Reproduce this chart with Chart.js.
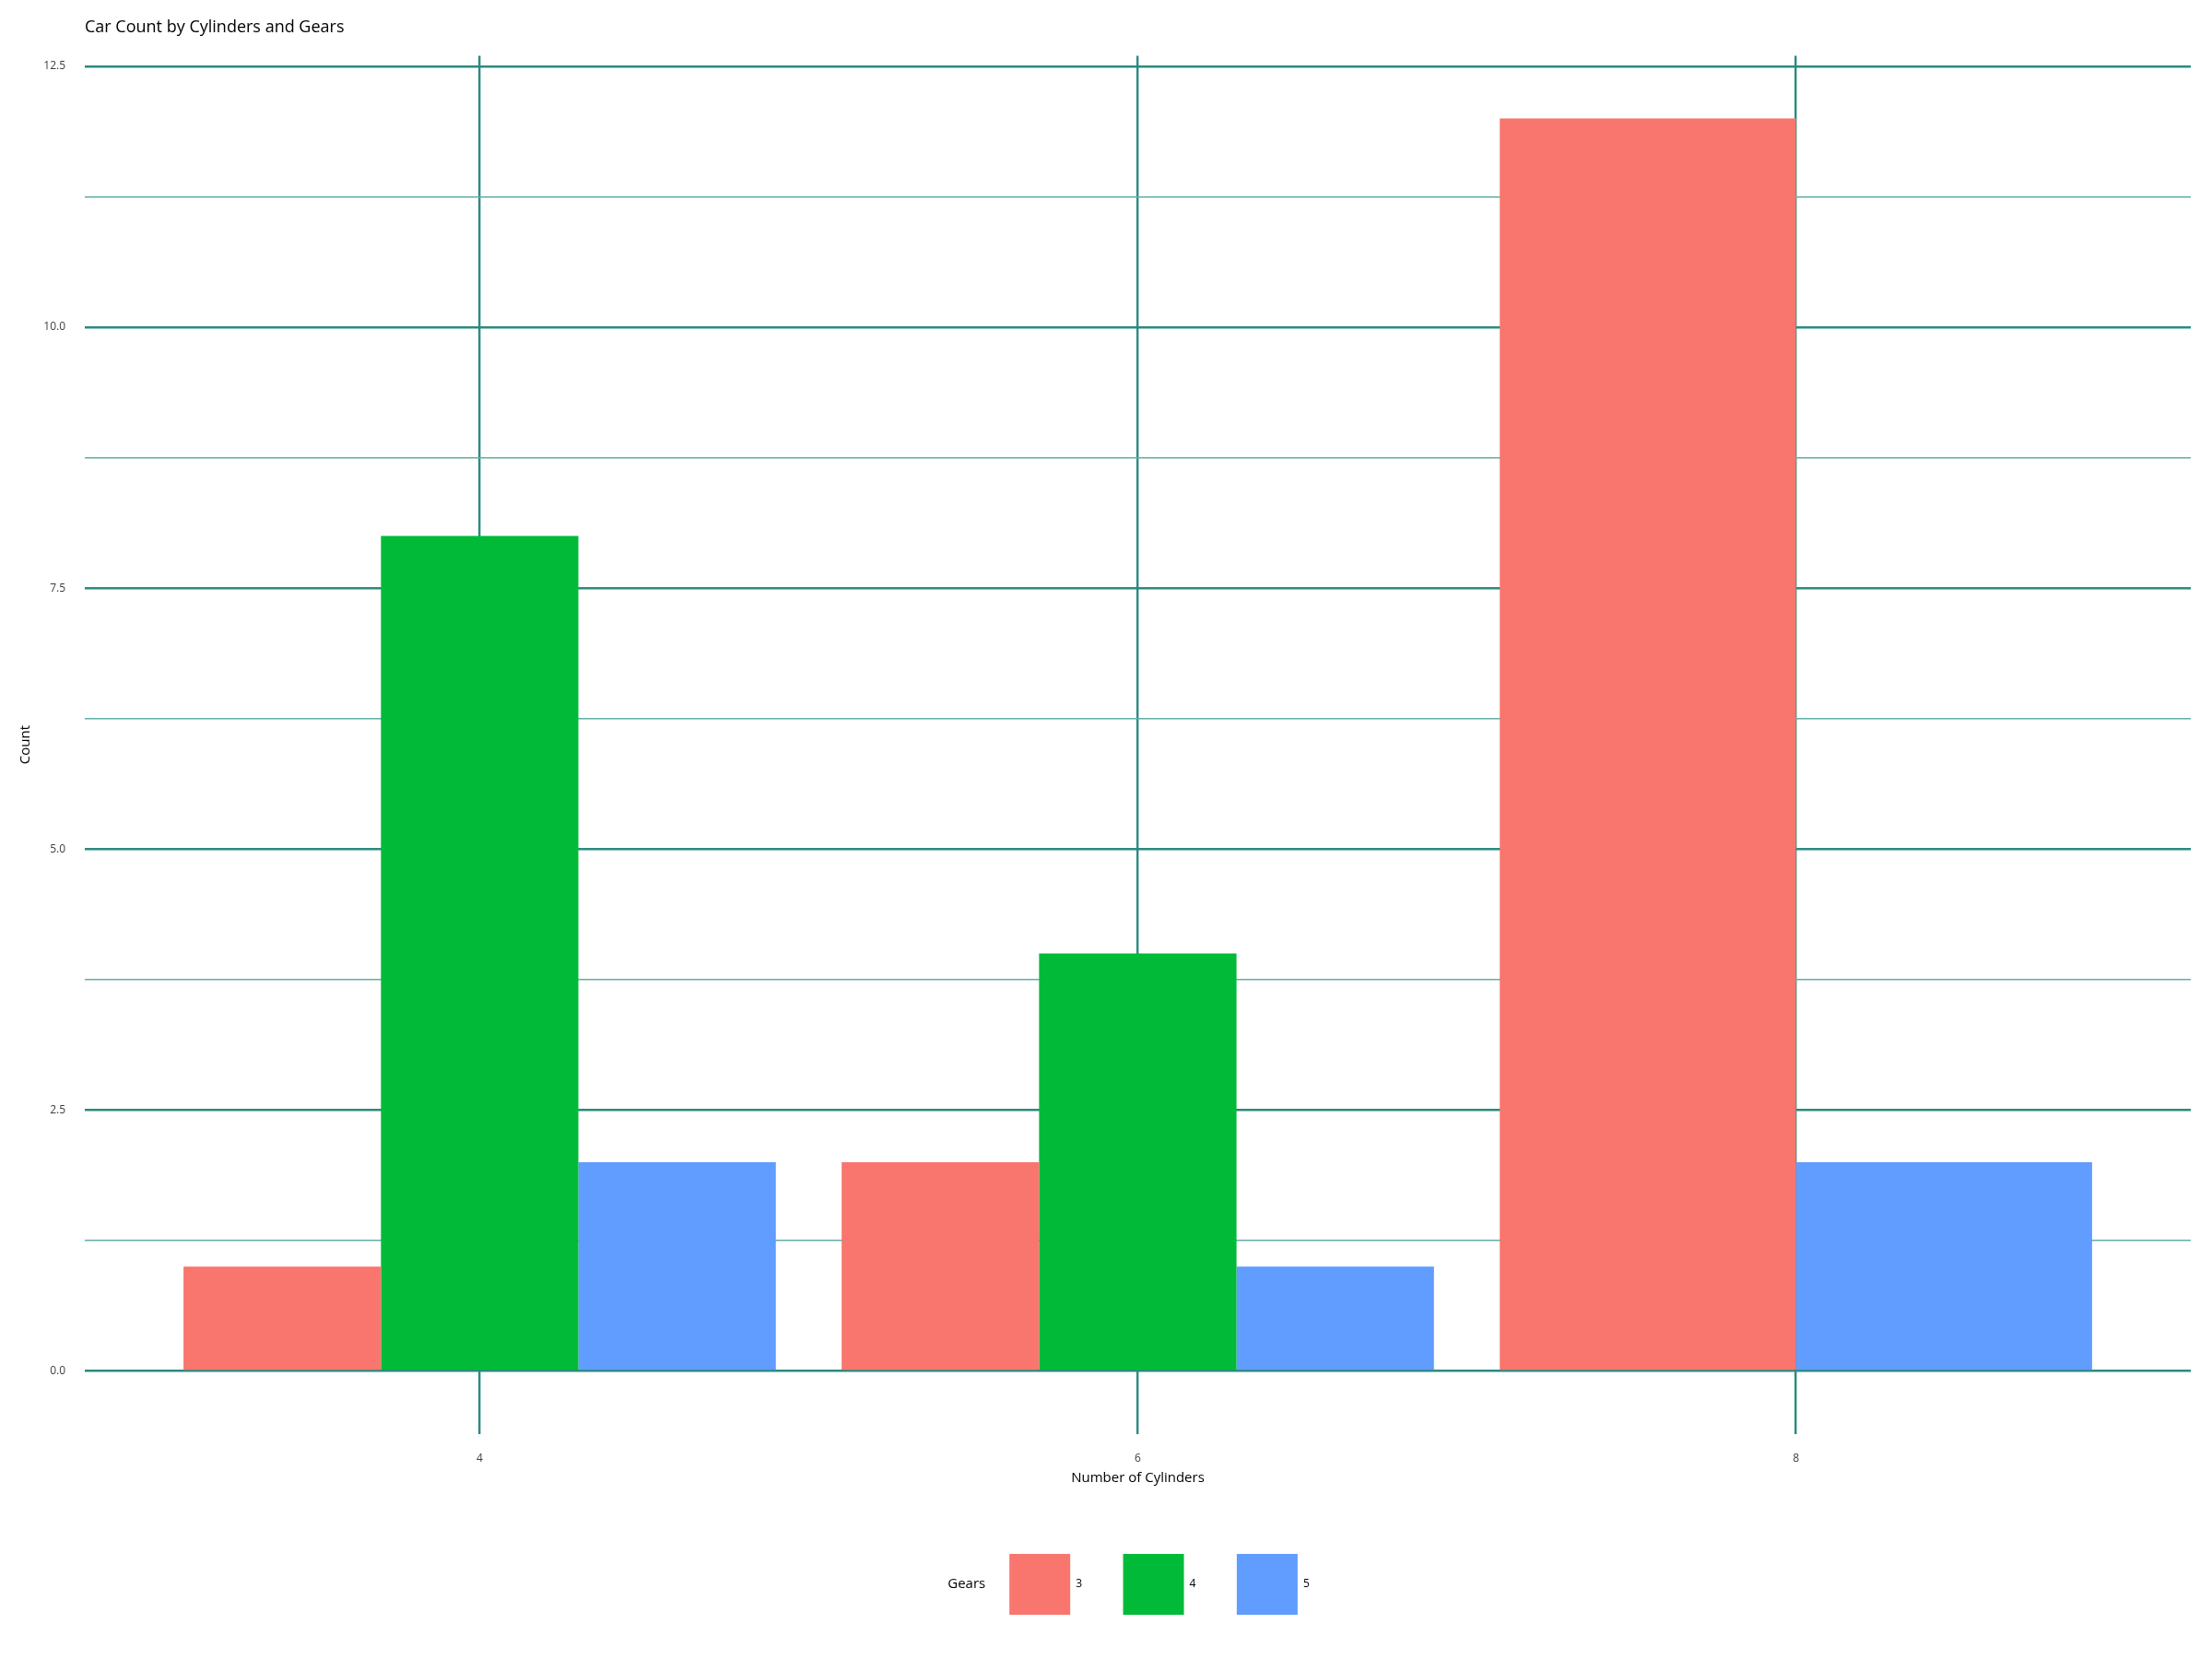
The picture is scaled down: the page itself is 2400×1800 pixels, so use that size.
<!DOCTYPE html>
<html>
<head>
<meta charset="utf-8">
<title>Car Count by Cylinders and Gears</title>
<script src="https://cdn.jsdelivr.net/npm/chart.js@4.4.1/dist/chart.umd.min.js"></script>
<style>
  html, body { margin: 0; background: #fff; }
  #wrap { width: 2400px; height: 1800px; }
</style>
</head>
<body>
<div id="wrap"><canvas id="chart"></canvas></div>
<script>
/* ── Data (mtcars: count by cyl x gear) ── */
const cylinders = ['4', '6', '8'];
const gearLevels = ['3', '4', '5'];
const gear3 = [1, 2, 12];
const gear4 = [8, 4, null];   // no 8-cyl car with 4 gears
const gear5 = [2, 1, 2];
const yMajor = [0, 2.5, 5, 7.5, 10, 12.5];
const yMinor = [1.25, 3.75, 6.25, 8.75, 11.25];

/* ── Style ── */
const FILLS = ['#F8766D', '#00BA38', '#619CFF'];
const GRID_MAJOR = '#2b8a80';
const GRID_MINOR = '#62aea6';
const FONT = '"Open Sans", "Noto Sans", sans-serif';

Chart.defaults.font.family = FONT;
Chart.defaults.color = '#000';

const series = [gear3, gear4, gear5];
const datasets = series.map((vals, k) => ({
  label: gearLevels[k],
  data: cylinders.map((c, i) => ({ x: i + 1, y: vals[i] })),
  backgroundColor: FILLS[k],
  borderWidth: 0,
  categoryPercentage: 0.9,
  barPercentage: 1.0,
  skipNull: true,
}));

/* ── Legend title "Gears" drawn left of the keys ── */
const legendTitle = {
  id: 'legendTitle',
  afterLayout(chart) {
    const lg = chart.legend;
    const ctx = chart.ctx;
    ctx.save();
    ctx.font = `15px ${FONT}`;
    const shift = ctx.measureText('Gears').width / 2 + 3;
    ctx.restore();
    lg.left += shift;
    lg.right += shift;
  },
  afterDraw(chart) {
    const lg = chart.legend;
    const pad = lg.options.labels.padding;
    const x0 = (lg.left + pad + lg.right - lg.lineWidths[0]) / 2;
    const y0 = lg.top + pad + lg.options.labels.boxHeight / 2;
    const ctx = chart.ctx;
    ctx.save();
    ctx.font = `15px ${FONT}`;
    ctx.fillStyle = '#000';
    ctx.textAlign = 'right';
    ctx.textBaseline = 'middle';
    ctx.fillText('Gears', x0 - 26, y0);
    ctx.restore();
  }
};

const gridColor = c => (c.tick && c.tick.major ? GRID_MAJOR : GRID_MINOR);
const gridWidth = c => (c.tick && c.tick.major ? 2.4 : 1.4);

new Chart(document.getElementById('chart'), {
  type: 'bar',
  data: { datasets },
  plugins: [legendTitle],
  options: {
    responsive: true,
    maintainAspectRatio: false,
    animation: false,
    layout: { padding: { left: 0, right: 23, top: 0, bottom: 38 } },
    plugins: {
      title: {
        display: true,
        text: 'Car Count by Cylinders and Gears',
        align: 'start',
        fullSize: false,
        color: '#000',
        font: { size: 18, weight: 'normal' },
        padding: { top: 19, bottom: 20 },
      },
      legend: {
        position: 'bottom',
        fullSize: false,
        labels: {
          boxWidth: 66,
          boxHeight: 66,
          padding: 44.5,
          color: '#000',
          font: { size: 12 },
        },
      },
      tooltip: { enabled: false },
    },
    scales: {
      x: {
        type: 'linear',
        min: 0.4,
        max: 3.6,
        offset: false,
        afterBuildTicks: s => { s.ticks = cylinders.map((c, i) => ({ value: i + 1, major: true })); },
        afterFit: s => { s.height = 86; },
        ticks: {
          callback: v => cylinders[Math.round(v) - 1],
          color: '#3d3d3d',
          font: { size: 12 },
          padding: 20,
          maxRotation: 0,
        },
        grid: { offset: false, drawTicks: false, color: GRID_MAJOR, lineWidth: 2.4 },
        border: { display: false },
        title: {
          display: true,
          text: 'Number of Cylinders',
          color: '#000',
          font: { size: 15 },
          padding: { top: 0, bottom: 29 },
        },
      },
      y: {
        min: -0.6,
        max: 12.6,
        afterBuildTicks: s => {
          s.ticks = yMajor.map(v => ({ value: v, major: true }))
            .concat(yMinor.map(v => ({ value: v, major: false })))
            .sort((a, b) => a.value - b.value);
        },
        afterFit: s => { s.width = 92; },
        ticks: {
          callback: (v, i, ticks) => (ticks[i].major ? v.toFixed(1) : ''),
          color: '#3d3d3d',
          font: { size: 12 },
          padding: 21,
          autoSkip: false,
        },
        grid: { drawTicks: false, color: gridColor, lineWidth: gridWidth },
        border: { display: false },
        title: {
          display: true,
          text: 'Count',
          color: '#000',
          font: { size: 15 },
          padding: { top: 19, bottom: 0 },
        },
      },
    },
  },
});
</script>
</body>
</html>
